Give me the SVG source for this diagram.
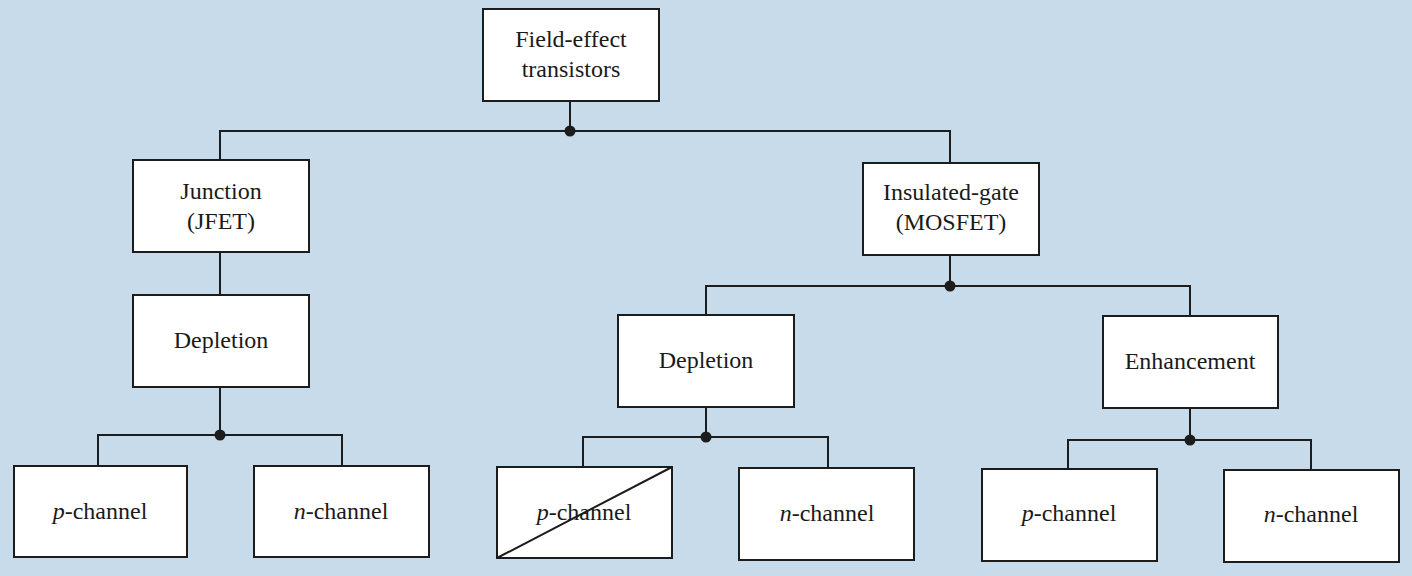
<svg xmlns="http://www.w3.org/2000/svg" width="1412" height="576" viewBox="0 0 1412 576">
<style>
.box{fill:#ffffff;stroke:#1c1c1c;stroke-width:2}
.t{font-family:"Liberation Serif","Times New Roman",serif;font-size:24px;fill:#1a1a1a;text-anchor:middle}
.i{font-style:italic}
.c{fill:none;stroke:#1c1c1c;stroke-width:2}
.dot{fill:#1c1c1c}
</style>
<rect x="0" y="0" width="1412" height="576" fill="#c7dbea"/>
<g id="connectors">
<path class="c" d="M570 101V131M220 160V131H950V163"/>
<circle class="dot" cx="570" cy="131" r="5.5"/>
<path class="c" d="M220 252V295"/>
<path class="c" d="M220 387V435M98 466V435H342V466"/>
<circle class="dot" cx="220" cy="435" r="5.5"/>
<path class="c" d="M950 255V286M706 315V286H1190V316"/>
<circle class="dot" cx="950" cy="286" r="5.5"/>
<path class="c" d="M706 407V437M583 467V437H828V468"/>
<circle class="dot" cx="706" cy="437" r="5.5"/>
<path class="c" d="M1190 408V440M1068 469V440H1311V470"/>
<circle class="dot" cx="1190" cy="440" r="5.5"/>
</g>
<g id="fet">
<rect class="box" x="483" y="9" width="176" height="92"/>
<text class="t" x="571" y="47">Field-effect</text>
<text class="t" x="571" y="77">transistors</text>
</g>
<g id="jfet">
<rect class="box" x="133" y="160" width="176" height="92"/>
<text class="t" x="221" y="199">Junction</text>
<text class="t" x="221" y="229">(JFET)</text>
</g>
<g id="mosfet">
<rect class="box" x="863" y="163" width="176" height="92"/>
<text class="t" x="951" y="200">Insulated-gate</text>
<text class="t" x="951" y="230">(MOSFET)</text>
</g>
<g id="jfet-depletion">
<rect class="box" x="133" y="295" width="176" height="92"/>
<text class="t" x="221" y="348">Depletion</text>
</g>
<g id="mos-depletion">
<rect class="box" x="618" y="315" width="176" height="92"/>
<text class="t" x="706" y="368">Depletion</text>
</g>
<g id="enhancement">
<rect class="box" x="1103" y="316" width="175" height="92"/>
<text class="t" x="1190" y="369">Enhancement</text>
</g>
<g id="jfet-p">
<rect class="box" x="14" y="466" width="173" height="91"/>
<text class="t" x="100" y="519"><tspan class="i">p</tspan>-channel</text>
</g>
<g id="jfet-n">
<rect class="box" x="254" y="466" width="175" height="91"/>
<text class="t" x="341" y="519"><tspan class="i">n</tspan>-channel</text>
</g>
<g id="dep-p">
<rect class="box" x="497" y="467" width="175" height="91"/>
<text class="t" x="584" y="520"><tspan class="i">p</tspan>-channel</text>
<line x1="497" y1="558" x2="672" y2="467" stroke="#1c1c1c" stroke-width="2"/>
</g>
<g id="dep-n">
<rect class="box" x="739" y="468" width="175" height="92"/>
<text class="t" x="827" y="521"><tspan class="i">n</tspan>-channel</text>
</g>
<g id="enh-p">
<rect class="box" x="982" y="469" width="175" height="92"/>
<text class="t" x="1069" y="521"><tspan class="i">p</tspan>-channel</text>
</g>
<g id="enh-n">
<rect class="box" x="1224" y="470" width="175" height="92"/>
<text class="t" x="1311" y="522"><tspan class="i">n</tspan>-channel</text>
</g>
</svg>
